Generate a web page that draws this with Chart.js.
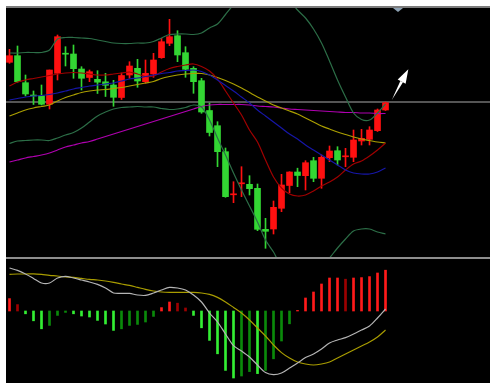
<!DOCTYPE html>
<html>
<head>
<meta charset="utf-8">
<script src="https://cdn.jsdelivr.net/npm/chart.js@4.4.0/dist/chart.umd.min.js"></script>
<style>
  body { margin: 0; background: #fff; width: 492px; height: 389px; overflow: hidden; }
  #frame { position: absolute; left: 6px; top: 6px; width: 484px; height: 377px; background: #000; border-top: 2px solid #7c7c7c; box-sizing: border-box; }
  #sep { position: absolute; left: 6px; top: 257px; width: 484px; height: 2px; background: #8e8e8e; }
  #top { position: absolute; left: 6px; top: 8px; width: 484px; height: 249px; }
  #bot { position: absolute; left: 6px; top: 259px; width: 484px; height: 124px; }
</style>
</head>
<body>
<div id="frame"></div>
<div id="sep"></div>
<div id="top"><canvas id="priceChart"></canvas></div>
<div id="bot"><canvas id="macdChart"></canvas></div>
<script>
// candles (price units)
const opens  = [19.77,20.43,17.73,16.5,16.43,15.57,18.67,20.68,20.6,19.1,18.25,18.07,17.82,17.5,16.25,18.5,19.17,17.83,18.6,20.23,21.67,22.43,20.73,19.17,17.93,14.95,13.43,10.83,6.52,7.62,7.57,7.17,3.07,3.1,5.17,7.45,8.8,8.43,9.93,8.17,10.23,10.93,10.32,10.27,11.9,12.07,12.93,15.0];
const closes = [20.43,17.83,16.6,16.4,15.57,19.0,22.33,20.58,19.13,18.17,18.83,17.78,17.47,16.27,18.45,19.4,17.9,18.67,20.0,21.83,22.33,20.5,19.07,17.83,14.8,12.75,10.83,6.33,6.62,7.72,7.13,3.07,2.87,5.27,7.5,8.8,8.45,9.73,8.17,10.27,10.9,10.0,10.42,12.0,12.17,13.0,15.0,15.73];
const highs  = [21.07,21.4,18.5,16.9,17.5,19.0,22.5,21.33,21.5,19.33,19.0,18.93,18.67,17.97,18.7,19.83,20.07,20.0,20.67,22.17,24.07,22.93,21.33,19.33,18.17,15.7,13.83,11.2,7.83,9.33,8.43,7.6,4.17,5.9,8.57,8.83,9.18,9.93,10.27,10.5,11.4,11.33,11.17,13.0,13.07,13.33,15.1,15.8];
const lows   = [19.67,17.77,16.4,15.55,15.5,15.1,18.0,19.4,18.17,17.0,17.83,16.65,16.35,15.37,16.05,18.17,17.27,17.67,18.27,20.17,21.43,19.83,18.27,16.67,14.67,12.4,9.33,6.27,5.73,6.33,6.5,2.93,1.17,2.6,4.83,6.73,7.33,7.0,7.83,7.17,9.83,9.5,9.33,9.83,11.5,11.5,12.85,14.95];

// bollinger bands + moving averages
const bollUpper = [20.7,20.7,20.75,20.75,20.75,21.0,22.1,22.25,22.25,22.2,22.15,22.0,21.85,21.7,21.65,21.65,21.7,21.7,21.85,22.2,22.55,22.6,22.6,22.55,22.7,23.2,23.6,24.55,25.5,26.0,26.4,26.4,26.8,26.8,26.8,26.0,25.0,24.2,23.1,21.7,19.9,18.0,16.3,14.7,14.05,14.0,14.7,15.6];
const bollMid   = [16.0,16.15,16.3,16.4,16.45,16.55,16.7,16.9,17.1,17.25,17.4,17.5,17.6,17.7,17.9,18.1,18.2,18.35,18.5,18.65,18.75,18.9,18.95,19.0,18.85,18.5,18.0,17.45,16.9,16.3,15.7,15.0,14.4,13.8,13.2,12.6,12.1,11.5,11.0,10.5,10.0,9.5,9.0,8.7,8.6,8.6,8.8,9.2];
const bollLower = [11.65,11.9,11.95,12.0,12.0,11.95,12.2,12.5,12.75,13.2,13.8,14.4,14.8,15.1,15.25,15.3,15.35,15.3,15.3,15.15,15.05,15.1,15.25,15.5,15.3,14.0,12.2,10.5,8.7,7.0,5.4,3.8,2.0,0.8,-0.6,-0.8,-0.8,-1.2,-1.1,-0.7,0.2,1.2,2.1,2.9,3.1,3.1,2.8,2.6];
const maShort = [17.4,17.8,18.0,18.15,18.3,18.45,18.6,18.7,18.75,18.7,18.6,18.5,18.5,18.6,18.7,18.8,18.6,18.35,18.4,18.8,19.15,19.35,19.5,19.6,19.35,18.9,18.1,16.9,15.7,14.5,13.0,11.8,10.0,8.3,7.2,6.6,6.4,6.5,6.9,7.4,7.8,8.3,9.0,9.6,9.9,10.4,11.0,11.7];
const maMid   = [14.4,14.7,15.0,15.2,15.35,15.5,15.9,16.25,16.5,16.75,16.9,17.0,17.05,17.15,17.25,17.4,17.55,17.7,17.85,18.15,18.35,18.5,18.6,18.65,18.65,18.5,18.25,17.95,17.6,17.2,16.75,16.3,15.9,15.5,15.2,14.9,14.6,14.2,13.8,13.4,13.1,12.8,12.55,12.3,12.1,11.95,11.8,11.7];
const maLong  = [9.8,10.0,10.2,10.35,10.5,10.7,11.0,11.3,11.5,11.7,11.85,12.1,12.35,12.6,12.85,13.1,13.35,13.6,13.85,14.1,14.35,14.6,14.85,15.1,15.35,15.5,15.55,15.55,15.55,15.55,15.5,15.4,15.35,15.3,15.2,15.1,15.05,15.0,14.95,14.9,14.85,14.8,14.75,14.75,14.7,14.7,14.65,14.65];
const lastPrice = 15.75;

// MACD
const dif  = [2.15,2.03,1.85,1.63,1.4,1.4,1.65,1.73,1.65,1.55,1.45,1.33,1.15,0.9,0.88,0.88,0.8,0.78,0.9,1.05,1.18,1.15,1.05,0.8,0.45,-0.1,-0.55,-1.15,-1.73,-2.0,-2.3,-2.7,-3.08,-3.18,-3.1,-2.85,-2.6,-2.33,-2.15,-1.9,-1.6,-1.45,-1.33,-1.15,-0.95,-0.75,-0.35,0.1];
const dea  = [1.83,1.85,1.85,1.86,1.83,1.78,1.75,1.7,1.68,1.63,1.58,1.55,1.5,1.43,1.35,1.28,1.18,1.08,1.0,0.95,0.93,0.93,0.93,0.93,0.9,0.83,0.68,0.45,0.18,-0.1,-0.45,-0.85,-1.25,-1.7,-2.08,-2.35,-2.55,-2.65,-2.7,-2.65,-2.55,-2.35,-2.15,-1.95,-1.75,-1.55,-1.3,-0.95];
const hist = [0.62,0.32,-0.14,-0.49,-0.89,-0.72,-0.22,-0.07,-0.14,-0.25,-0.3,-0.47,-0.65,-0.97,-0.89,-0.72,-0.67,-0.55,-0.27,0.17,0.45,0.39,0.15,-0.22,-0.84,-1.47,-2.14,-2.97,-3.35,-3.25,-3.03,-3.13,-2.97,-2.39,-1.5,-0.64,0.03,0.65,0.95,1.35,1.65,1.65,1.59,1.65,1.67,1.72,1.9,2.04];

// arrow annotation (index, price)
const arrowFrom = [47.78, 16.0];
const arrowTo = [49.85, 19.07];
const markerX = 48.56;

const idx = opens.map((_, i) => i);
const UP = '#ff1010', DOWN = '#33d633';
const candleColor = idx.map(i => closes[i] >= opens[i] ? UP : DOWN);

function pts(arr) { return idx.map(i => ({ x: i, y: arr[i] })); }
function lineSet(arr, color) {
  return { type: 'line', data: pts(arr), borderColor: color, borderWidth: 1.2, pointRadius: 0, tension: 0.3, order: 0 };
}

const xScale = { type: 'linear', min: -0.4375, max: 60.06, display: false, offset: false };
const common = {
  responsive: true, maintainAspectRatio: false, animation: false, events: [],
  layout: { padding: 0 },
  plugins: { legend: { display: false }, tooltip: { enabled: false } }
};

const priceDecor = {
  id: 'priceDecor',
  beforeDatasetsDraw(chart) {
    const { ctx, chartArea, scales: { y } } = chart;
    const py = Math.round(y.getPixelForValue(lastPrice)) + 0.0;
    ctx.save();
    ctx.fillStyle = '#555';
    ctx.fillRect(chartArea.left, py - 1, chartArea.right - chartArea.left, 2);
    ctx.restore();
  },
  afterDatasetsDraw(chart) {
    const { ctx, scales: { x, y } } = chart;
    const x1 = x.getPixelForValue(arrowFrom[0]), y1 = y.getPixelForValue(arrowFrom[1]);
    const x2 = x.getPixelForValue(arrowTo[0]), y2 = y.getPixelForValue(arrowTo[1]);
    const ang = Math.atan2(y2 - y1, x2 - x1);
    const head = 14, half = 4.5;
    const bx = x2 - head * Math.cos(ang), by = y2 - head * Math.sin(ang);
    ctx.save();
    ctx.fillStyle = '#fff';
    ctx.beginPath();
    ctx.moveTo(x1, y1);
    ctx.lineTo(bx + 1.5 * Math.sin(ang), by - 1.5 * Math.cos(ang));
    ctx.lineTo(bx - 1.5 * Math.sin(ang), by + 1.5 * Math.cos(ang));
    ctx.closePath();
    ctx.fill();
    ctx.beginPath();
    ctx.moveTo(x2, y2);
    ctx.lineTo(bx + half * Math.sin(ang), by - half * Math.cos(ang));
    ctx.lineTo(bx - half * Math.sin(ang), by + half * Math.cos(ang));
    ctx.closePath();
    ctx.fill();
    // top marker
    const mx = x.getPixelForValue(markerX);
    ctx.fillStyle = '#8ea2b4';
    ctx.beginPath();
    ctx.moveTo(mx - 5, 0);
    ctx.lineTo(mx + 5, 0);
    ctx.lineTo(mx, 4);
    ctx.closePath();
    ctx.fill();
    ctx.restore();
  }
};

new Chart(document.getElementById('priceChart'), {
  type: 'bar',
  data: {
    datasets: [
      lineSet(bollUpper, '#2c6e47'),
      lineSet(bollLower, '#2c6e47'),
      lineSet(bollMid, '#1616a8'),
      lineSet(maShort, '#a00000'),
      lineSet(maMid, '#aa9e00'),
      lineSet(maLong, '#b000b0'),
      { type: 'bar', data: idx.map(i => ({ x: i, y: [lows[i], highs[i]] })), backgroundColor: candleColor, barThickness: 1, grouped: false, order: 2 },
      { type: 'bar', data: idx.map(i => ({ x: i, y: [opens[i], closes[i]] })), backgroundColor: candleColor, barThickness: 6, minBarLength: 1, grouped: false, order: 1 }
    ]
  },
  options: Object.assign({}, common, {
    scales: { x: xScale, y: { min: 0.3, max: 25.2, display: false } }
  }),
  plugins: [priceDecor]
});

const histColor = idx.map(i => {
  const v = hist[i], p = i > 0 ? hist[i - 1] : v;
  if (v >= 0) return v >= p ? '#ff1a1a' : '#9c0000';
  return v <= p ? '#33ee33' : '#0a8a0a';
});

new Chart(document.getElementById('macdChart'), {
  type: 'bar',
  data: {
    datasets: [
      { type: 'line', data: pts(dif), borderColor: '#b4b4b4', borderWidth: 1.2, pointRadius: 0, tension: 0.3, order: 0 },
      { type: 'line', data: pts(dea), borderColor: '#a89c00', borderWidth: 1.2, pointRadius: 0, tension: 0.3, order: 0 },
      { type: 'bar', data: pts(hist), backgroundColor: histColor, barThickness: 2, grouped: false, order: 1 }
    ]
  },
  options: Object.assign({}, common, {
    scales: { x: xScale, y: { min: -3.6, max: 2.6, display: false } }
  })
});
</script>
</body>
</html>
